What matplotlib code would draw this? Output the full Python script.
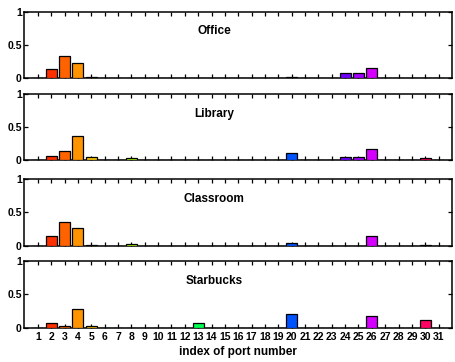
import colorsys
import numpy as np
import matplotlib
matplotlib.use('Agg')
import matplotlib.pyplot as plt

plt.rcParams['font.family'] = ['Liberation Sans', 'DejaVu Sans']
plt.rcParams['font.weight'] = 'bold'

ports = np.arange(1, 32)
places = ['Office', 'Library', 'Classroom', 'Starbucks']

# share of traffic per port index (1..31)
office = np.zeros(31)
office[[1, 2, 3, 4, 19, 23, 24, 25]] = [0.13, 0.33, 0.23, 0.02, 0.01, 0.07, 0.07, 0.15]

library = np.zeros(31)
library[[1, 2, 3, 4, 7, 12, 19, 23, 24, 25, 29]] = [0.06, 0.14, 0.36, 0.04, 0.03, 0.005,
                                                    0.11, 0.045, 0.045, 0.17, 0.035]

classroom = np.zeros(31)
classroom[[1, 2, 3, 4, 7, 19, 25, 29]] = [0.145, 0.35, 0.26, 0.005, 0.03, 0.035, 0.15, 0.005]

starbucks = np.zeros(31)
starbucks[[1, 2, 3, 4, 12, 19, 25, 29]] = [0.075, 0.025, 0.28, 0.02, 0.075, 0.205, 0.18, 0.11]

series = [office, library, classroom, starbucks]

# one hue per port index, walking round the colour wheel
colors = [colorsys.hsv_to_rgb(((p - 1) * 11.6 % 360) / 360.0, 1.0, 1.0) for p in ports]

fig = plt.figure(figsize=(4.56, 3.62), dpi=100)
W, H = 456.0, 362.0
left, right = 24.5, 452.0
rows = [(11.5, 78.0), (94.0, 160.0), (179.0, 245.7), (261.0, 327.7)]

for k, (name, vals) in enumerate(zip(places, series)):
    top, bot = rows[k]
    ax = fig.add_axes([left / W, 1 - bot / H, (right - left) / W, (bot - top) / H])
    ax.bar(ports, vals, width=0.82, color=colors, edgecolor='black', linewidth=0.9, zorder=3)
    ax.set_xlim(0, 32)
    ax.set_ylim(0, 1)
    ax.set_yticks([0, 0.5, 1])
    ax.set_yticklabels(['0', '0.5', '1'])
    ax.set_xticks(ports)
    ax.tick_params(axis='both', direction='in', length=3, width=0.9, labelsize=7.5,
                   top=True, right=False, pad=3)
    ax.tick_params(axis='y', right=True, pad=2)
    if k < 3:
        ax.set_xticklabels([])
    else:
        ax.set_xticklabels([str(p) for p in ports])
    for s in ax.spines.values():
        s.set_linewidth(1.1)
    ax.text(14.2, 0.7, name, ha='center', va='center', fontsize=8.5, fontweight='bold')

fig.text(238 / W, 1 - 352 / H, 'index of port number', ha='center', va='center',
         fontsize=8.5, fontweight='bold')

plt.savefig('out.png', dpi=100)
plt.close()
